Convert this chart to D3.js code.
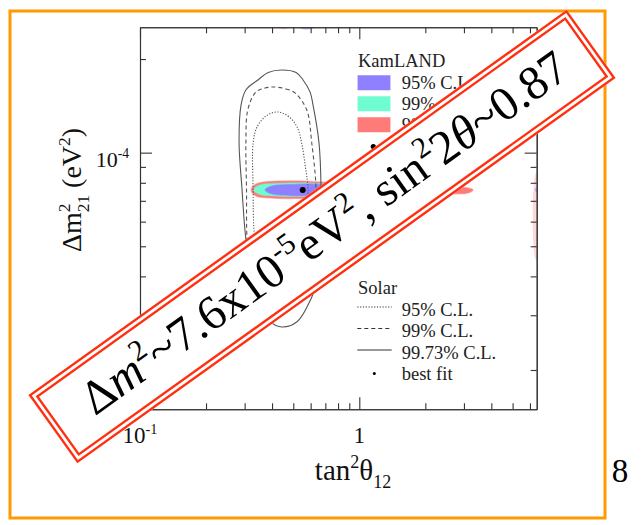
<!DOCTYPE html>
<html>
<head>
<meta charset="utf-8">
<script src="https://cdn.jsdelivr.net/npm/d3@7"></script>
<style>
  body { margin: 0; background: #fff; }
  svg { display: block; }
</style>
</head>
<body>
<div id="chart"></div>
<script>
const FONT = '"Liberation Serif", "Times New Roman", serif';

// axis ticks
const xMajorTicks = [0.1, 1];
const xMajorLabels = [['10', '-1'], ['1', '']];
const xMinorTicks = [0.2, 0.3, 0.4, 0.5, 0.6, 0.7, 0.8, 0.9, 2, 3, 4, 5, 6];
const yMajorTicks = [1e-4];
const yMajorLabels = [['10', '-4']];
const yMinorTicks = [2e-5, 3e-5, 4e-5, 5e-5, 6e-5, 7e-5, 8e-5, 9e-5, 2e-4];

// solar contours [tan^2 theta, dm^2]
const solar95 = [[0.4215, 1.352e-4], [0.473, 1.312e-4], [0.520, 1.21e-4], [0.546, 1.074e-4], [0.566, 9.13e-5],
  [0.584, 7.59e-5], [0.578, 5.64e-5], [0.548, 4.45e-5], [0.493, 3.81e-5], [0.430, 3.62e-5], [0.380, 3.78e-5],
  [0.345, 4.45e-5], [0.331, 5.64e-5], [0.328, 7.59e-5], [0.328, 1.074e-4], [0.342, 1.21e-4], [0.376, 1.312e-4]];
const solar99 = [[0.404, 1.626e-4], [0.463, 1.603e-4], [0.509, 1.556e-4], [0.576, 1.372e-4], [0.607, 1.074e-4],
  [0.635, 7.59e-5], [0.622, 5.24e-5], [0.584, 3.90e-5], [0.509, 3.28e-5], [0.426, 3.12e-5], [0.364, 3.28e-5],
  [0.324, 3.90e-5], [0.308, 5.24e-5], [0.306, 7.59e-5], [0.304, 1.074e-4], [0.310, 1.372e-4], [0.335, 1.556e-4],
  [0.360, 1.603e-4]];
const solar9973 = [[0.444, 1.845e-4], [0.515, 1.811e-4], [0.554, 1.713e-4], [0.596, 1.568e-4], [0.615, 1.424e-4],
  [0.655, 1.074e-4], [0.669, 7.59e-5], [0.662, 5.24e-5], [0.635, 3.75e-5], [0.584, 3.24e-5], [0.520, 2.86e-5],
  [0.444, 2.75e-5], [0.392, 2.86e-5], [0.345, 3.36e-5], [0.317, 4.2e-5], [0.301, 5.64e-5], [0.292, 7.59e-5],
  [0.283, 1.074e-4], [0.289, 1.424e-4], [0.304, 1.591e-4], [0.345, 1.713e-4], [0.384, 1.811e-4]];

// KamLAND regions
const kam9973 = [[0.321, 7.59e-5], [0.338, 7.93e-5], [0.392, 8.08e-5], [0.509, 8.11e-5], [0.662, 8.05e-5],
  [0.907, 7.93e-5], [1.53, 7.81e-5], [2.59, 7.76e-5], [3.13, 7.70e-5], [3.30, 7.59e-5], [3.13, 7.42e-5],
  [2.59, 7.37e-5], [1.53, 7.31e-5], [0.907, 7.26e-5], [0.662, 7.18e-5], [0.509, 7.12e-5], [0.392, 7.15e-5],
  [0.338, 7.26e-5]];
const kam99 = [[0.329, 7.59e-5], [0.352, 7.87e-5], [0.413, 7.96e-5], [0.537, 7.99e-5], [0.698, 7.93e-5],
  [0.907, 7.81e-5], [1.53, 7.70e-5], [2.10, 7.64e-5], [2.21, 7.59e-5], [2.10, 7.50e-5], [1.53, 7.42e-5],
  [0.907, 7.37e-5], [0.698, 7.28e-5], [0.537, 7.23e-5], [0.413, 7.26e-5], [0.352, 7.34e-5]];
const kam95 = [[0.372, 7.59e-5], [0.400, 7.81e-5], [0.483, 7.90e-5], [0.596, 7.93e-5], [0.735, 7.87e-5],
  [1.007, 7.76e-5], [1.243, 7.64e-5], [1.283, 7.59e-5], [1.243, 7.50e-5], [1.007, 7.42e-5], [0.735, 7.34e-5],
  [0.596, 7.28e-5], [0.483, 7.28e-5], [0.400, 7.37e-5]];
// islands peeking in at the frame edges
const kamTopRed = [[0.40, 2.6e-4], [0.45, 2.62e-4], [0.49, 2.56e-4], [0.45, 2.49e-4]];
const kamTopBlue = [[0.49, 2.6e-4], [0.57, 2.63e-4], [0.66, 2.57e-4], [0.57, 2.49e-4]];
const kamEdgeRed = [[6.40, 8.6e-5], [6.6, 8.6e-5], [6.6, 4.5e-5], [6.40, 4.5e-5]];
const kamEdgeBlue = [[6.36, 7.7e-5], [6.6, 7.7e-5], [6.6, 7.5e-5], [6.36, 7.5e-5]];
const bestFit = [0.552, 7.59e-5];

const kamLegend = ['95% C.L.', '99% C.L.', '99.73% C.L.', 'best fit'];
const kamColors = ['#8f80ff', '#6efcd0', '#ff7b79'];
const solarLegend = ['95% C.L.', '99% C.L.', '99.73% C.L.', 'best fit'];
const solarDash = ['1.2,1.6', '4,3', null];

const plot = { left: 140, right: 536.7, top: 27.3, bottom: 409.3 };

const svg = d3.select('#chart').append('svg').attr('width', 641).attr('height', 525)
  .attr('font-family', FONT);

const x = d3.scaleLog().domain([0.1, 6.44]).range([plot.left, plot.right]);
const y = d3.scaleLog().domain([1.495e-5, 2.53e-4]).range([plot.bottom, plot.top]);

// text with super/subscripts
function rich(sel, parts, size) {
  let cur = 0;
  parts.forEach((p) => {
    const shift = p.sup ? -0.4 * size : p.sub ? 0.28 * size : 0;
    const ts = sel.append('tspan').attr('dy', shift - cur).text(p.t);
    cur = shift;
    if (p.sup || p.sub) ts.attr('font-size', size * 0.62);
    if (p.it) ts.attr('font-style', 'italic');
    if (p.dx) ts.attr('dx', p.dx);
  });
}

// orange slide frame
svg.append('rect').attr('x', 10).attr('y', 11).attr('width', 595).attr('height', 507)
  .attr('fill', 'none').attr('stroke', '#ff9a00').attr('stroke-width', 3);

svg.append('clipPath').attr('id', 'plotClip').append('rect')
  .attr('x', plot.left).attr('y', plot.top)
  .attr('width', plot.right - plot.left).attr('height', plot.bottom - plot.top);

const dataG = svg.append('g').attr('clip-path', 'url(#plotClip)');
const closed = d3.line().x((d) => x(d[0])).y((d) => y(d[1])).curve(d3.curveCatmullRomClosed.alpha(0.5));

// KamLAND filled regions
[[kam9973, 2], [kam99, 1], [kam95, 0]].forEach(([pts, i]) => {
  dataG.append('path').attr('d', closed(pts)).attr('fill', kamColors[i])
    .attr('stroke', kamColors[i]).attr('stroke-opacity', 0.5).attr('stroke-width', 1.2);
});
[[kamTopRed, 2], [kamTopBlue, 0], [kamEdgeRed, 2], [kamEdgeBlue, 0]].forEach(([pts, i]) => {
  dataG.append('path').attr('d', closed(pts)).attr('fill', kamColors[i]).attr('opacity', i === 2 ? 0.3 : 0.6);
});

// solar contours
[[solar95, 0], [solar99, 1], [solar9973, 2]].forEach(([pts, i]) => {
  dataG.append('path').attr('d', closed(pts)).attr('fill', 'none')
    .attr('stroke', '#555').attr('stroke-width', 1.1)
    .attr('stroke-dasharray', solarDash[i]);
});

dataG.append('circle').attr('cx', x(bestFit[0])).attr('cy', y(bestFit[1])).attr('r', 3).attr('fill', '#000');

// axes, ticks pointing inward on all four sides
function styleAxis(g) {
  g.selectAll('path, line').attr('stroke', '#333').attr('stroke-width', 1.1);
  g.selectAll('text').remove();
}
const axes = [
  [d3.axisBottom, x, `translate(0,${plot.bottom})`],
  [d3.axisTop, x, `translate(0,${plot.top})`],
  [d3.axisLeft, y, `translate(${plot.left},0)`],
  [d3.axisRight, y, `translate(${plot.right},0)`],
];
axes.forEach(([axisFn, scale, tr]) => {
  const major = scale === x ? xMajorTicks : yMajorTicks;
  const minor = scale === x ? xMinorTicks : yMinorTicks;
  svg.append('g').attr('transform', tr)
    .call(axisFn(scale).tickValues(minor).tickSize(-6).tickSizeOuter(0)).call(styleAxis);
  svg.append('g').attr('transform', tr)
    .call(axisFn(scale).tickValues(major).tickSize(-12).tickSizeOuter(0)).call(styleAxis);
});

// tick labels
xMajorTicks.forEach((v, i) => {
  const t = svg.append('text').attr('x', x(v)).attr('y', 443).attr('text-anchor', 'middle')
    .attr('font-size', 23).attr('fill', '#111');
  rich(t, [{ t: xMajorLabels[i][0] }, ...(xMajorLabels[i][1] ? [{ t: xMajorLabels[i][1], sup: true }] : [])], 23);
});
yMajorTicks.forEach((v, i) => {
  const t = svg.append('text').attr('x', 129).attr('y', y(v) + 14).attr('text-anchor', 'end')
    .attr('font-size', 22).attr('fill', '#111');
  rich(t, [{ t: yMajorLabels[i][0] }, { t: yMajorLabels[i][1], sup: true }], 22);
});

// axis titles
const xt = svg.append('text').attr('x', 353).attr('y', 480).attr('text-anchor', 'middle')
  .attr('font-size', 29).attr('fill', '#111');
rich(xt, [{ t: 'tan' }, { t: '2', sup: true }, { t: 'θ' }, { t: '12', sub: true }], 29);

const yt = svg.append('text').attr('transform', 'translate(81,190) rotate(-90)').attr('text-anchor', 'middle')
  .attr('font-size', 28).attr('fill', '#111');
rich(yt, [{ t: 'Δm' }, { t: '2', sup: true }, { t: '21', sub: true, dx: -0.31 * 28 }, { t: ' (eV' },
  { t: '2', sup: true }, { t: ')' }], 28);

// KamLAND legend
const LEG = 18.5;
svg.append('text').attr('x', 358).attr('y', 66.7).attr('font-size', LEG).attr('fill', '#222').text('KamLAND');
kamLegend.forEach((label, i) => {
  const base = 89 + i * 21;
  if (i < 3) {
    svg.append('rect').attr('x', 357.3).attr('y', base - 14).attr('width', 33.4).attr('height', 15.5)
      .attr('fill', kamColors[i]).attr('stroke', '#fff').attr('stroke-opacity', 0.5);
  } else {
    svg.append('circle').attr('cx', 373.3).attr('cy', base - 5.5).attr('r', 2.6).attr('fill', '#000');
  }
  svg.append('text').attr('x', 401.7).attr('y', base).attr('font-size', LEG).attr('fill', '#222').text(label);
});

// Solar legend
svg.append('text').attr('x', 358).attr('y', 293.5).attr('font-size', LEG).attr('fill', '#222').text('Solar');
solarLegend.forEach((label, i) => {
  const base = 315.5 + i * 21.5;
  if (i < 3) {
    svg.append('line').attr('x1', 357.3).attr('x2', 391.7).attr('y1', base - 8.5).attr('y2', base - 8.5)
      .attr('stroke', '#333').attr('stroke-width', 1).attr('stroke-dasharray', solarDash[i]);
  } else {
    svg.append('circle').attr('cx', 374.3).attr('cy', base - 6.5).attr('r', 1.5).attr('fill', '#000');
  }
  svg.append('text').attr('x', 401.7).attr('y', base).attr('font-size', LEG).attr('fill', '#222').text(label);
});

// page number
svg.append('text').attr('x', 620).attr('y', 482).attr('text-anchor', 'middle')
  .attr('font-size', 33).attr('fill', '#000').text('8');

// tilted banner
const BW = 662, BH = 84;
const banner = svg.append('g').attr('transform', 'translate(322,236.5) rotate(-35.6)');
banner.append('rect').attr('x', -BW / 2).attr('y', -BH / 2).attr('width', BW).attr('height', BH).attr('fill', '#fff');
[1.2, 6.4].forEach((inset) => {
  banner.append('rect').attr('x', -BW / 2 + inset).attr('y', -BH / 2 + inset)
    .attr('width', BW - 2 * inset).attr('height', BH - 2 * inset)
    .attr('fill', 'none').attr('stroke', '#ff3010').attr('stroke-width', 2.4);
});
const BT = 48;
const bt = banner.append('text').attr('x', 4).attr('y', 14).attr('text-anchor', 'middle')
  .attr('font-size', BT).attr('fill', '#000');
rich(bt, [{ t: 'Δ' }, { t: 'm', it: true }, { t: '2', sup: true }, { t: '~7.6x10' }, { t: '-5', sup: true },
  { t: 'eV' }, { t: '2', sup: true }, { t: ', sin' }, { t: '2', sup: true }, { t: '2' }, { t: 'θ', it: true },
  { t: '~0.87' }], BT);
</script>
</body>
</html>
